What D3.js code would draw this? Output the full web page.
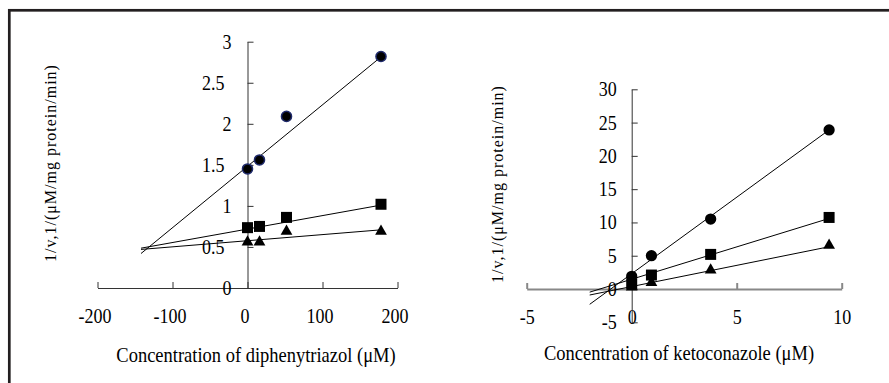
<!DOCTYPE html>
<html>
<head>
<meta charset="utf-8">
<script src="https://cdn.jsdelivr.net/npm/d3@7"></script>
<style>
  html, body { margin: 0; padding: 0; background: #fff; }
  svg { display: block; }
  text { font-family: "Liberation Serif", "Times New Roman", serif; fill: #000; }
</style>
</head>
<body>
<svg id="chart" width="889" height="383"></svg>
<script>
// ---- Panel A: diphenytriazol ----
const concA = [0, 16, 52, 178];
const circleA = [1.45, 1.56, 2.09, 2.82];
const squareA = [0.735, 0.75, 0.86, 1.02];
const triangleA = [0.56, 0.56, 0.69, 0.69];
// fitted line end points [x, y]
const fitCircleA = [[-142, 0.42], [180, 2.83]];
const fitSquareA = [[-142, 0.485], [180, 1.013]];
const fitTriangleA = [[-142, 0.47], [180, 0.71]];
const xTicksA = [-200, -100, 0, 100, 200];
const yTicksA = [0, 0.5, 1, 1.5, 2, 2.5, 3];

// ---- Panel B: ketoconazole ----
const concB = [0, 0.94, 3.76, 9.4];
const circleB = [1.9, 5.0, 10.5, 23.9];
const squareB = [0.8, 2.1, 5.2, 10.75];
const triangleB = [0.3, 0.95, 2.85, 6.55];
const fitCircleB = [[-2, -2.3], [9.4, 23.9]];
const fitSquareB = [[-2, -0.47], [9.4, 10.6]];
const fitTriangleB = [[-2, -0.9], [9.4, 6.35]];
const xTicksB = [-5, 0, 5, 10];
const yTicksB = [-5, 0, 5, 10, 15, 20, 25, 30];

const svg = d3.select("#chart");
const STRETCH = 1.13; // glyphs are drawn slightly taller than wide

// outer frame (continues past the right and bottom edges)
svg.append("rect")
  .attr("x", 9.3).attr("y", 10.3)
  .attr("width", 900).attr("height", 400)
  .attr("fill", "none")
  .attr("stroke", "#231f20")
  .attr("stroke-width", 2.7);

const xA = d3.scaleLinear().domain([-200, 200]).range([97.5, 397.5]);
const yA = d3.scaleLinear().domain([0, 3]).range([288, 41.7]);
const xB = d3.scaleLinear().domain([-5, 10]).range([526.7, 841.7]);
const yB = d3.scaleLinear().domain([-5, 30]).range([322.3, 89.3]);

const fmt = d => String(d);

function styleAxis(g, color, width) {
  g.select(".domain").attr("stroke", color).attr("stroke-width", width);
  g.selectAll(".tick line").attr("stroke", color).attr("stroke-width", width);
  g.selectAll(".tick text")
    .attr("font-family", "Liberation Serif, Times New Roman, serif")
    .attr("font-size", 18)
    .attr("fill", "#000")
    .attr("transform", `scale(1,${STRETCH})`);
}

function drawPanel(opts) {
  const { x, y, xTicks, yTicks, conc, circ, sq, tri, fits, xTitle, yTitle,
          xTitlePos, yTitlePos, xAxisY, xAxisColor, xAxisWidth, circleStroke } = opts;
  const g = svg.append("g");

  // x axis
  const gx = g.append("g")
    .attr("transform", `translate(0,${xAxisY})`)
    .call(d3.axisBottom(x).tickValues(xTicks).tickSizeInner(-6).tickSizeOuter(0)
      .tickPadding(18).tickFormat(fmt));
  styleAxis(gx, xAxisColor, xAxisWidth);
  gx.selectAll(".tick text").attr("dx", opts.xLabelDx || 0);

  // y axis
  const gy = g.append("g")
    .attr("transform", `translate(${x(0)},0)`)
    .call(d3.axisLeft(y).tickValues(yTicks).tickSizeInner(-6).tickSizeOuter(0)
      .tickPadding(opts.yPad).tickFormat(fmt));
  styleAxis(gy, "#333", 1);
  gy.selectAll(".tick text")
    .attr("dx", d => Number.isInteger(d) ? 0 : -7);

  // fitted lines
  const line = d3.line().x(d => x(d[0])).y(d => y(d[1]));
  fits.forEach(f => {
    g.append("path").attr("d", line(f))
      .attr("fill", "none").attr("stroke", "#000").attr("stroke-width", 1);
  });

  // markers
  const sym = (type, size) => d3.symbol().type(type).size(size)();
  const mk = (vals, type, size, stroke) => {
    g.append("g").selectAll("path")
      .data(vals.map((v, i) => [conc[i], v]))
      .join("path")
      .attr("d", sym(type, size))
      .attr("transform", d => `translate(${x(d[0])},${y(d[1])})`)
      .attr("fill", "#000")
      .attr("stroke", stroke || "none")
      .attr("stroke-width", stroke ? 1.5 : 0);
  };
  mk(tri, d3.symbolTriangle, 60);
  mk(sq, d3.symbolSquare, 121);
  mk(circ, d3.symbolCircle, circleStroke ? 80 : 100, circleStroke);

  // titles
  g.append("text")
    .attr("transform", `translate(${xTitlePos[0]},${xTitlePos[1]}) scale(1,${STRETCH})`)
    .attr("text-anchor", "middle").attr("dominant-baseline", "central")
    .attr("font-size", 18.5)
    .text(xTitle);
  g.append("text")
    .attr("transform", `translate(${yTitlePos[0]},${yTitlePos[1]}) rotate(-90)`)
    .attr("text-anchor", "middle").attr("dominant-baseline", "central")
    .attr("font-size", 16).attr("letter-spacing", "1px")
    .text(yTitle);
}

drawPanel({
  x: xA, y: yA, xTicks: xTicksA, yTicks: yTicksA,
  conc: concA, circ: circleA, sq: squareA, tri: triangleA,
  fits: [fitCircleA, fitSquareA, fitTriangleA],
  xTitle: "Concentration of diphenytriazol (\u03bcM)",
  yTitle: "1/v,1/(\u03bcM/mg protein/min)",
  xTitlePos: [256, 355], yTitlePos: [50, 163],
  xAxisY: yA(0), xAxisColor: "#333", xAxisWidth: 1,
  yPad: 16, xLabelDx: -3, circleStroke: "#1f2a6b"
});

drawPanel({
  x: xB, y: yB, xTicks: xTicksB, yTicks: yTicksB,
  conc: concB, circ: circleB, sq: squareB, tri: triangleB,
  fits: [fitCircleB, fitSquareB, fitTriangleB],
  xTitle: "Concentration of ketoconazole (\u03bcM)",
  yTitle: "1/v,1/(\u03bcM/mg protein/min)",
  xTitlePos: [679, 353], yTitlePos: [497, 184],
  xAxisY: yB(0), xAxisColor: "#888", xAxisWidth: 2,
  yPad: 15, xLabelDx: 0, circleStroke: null
});
</script>
</body>
</html>
